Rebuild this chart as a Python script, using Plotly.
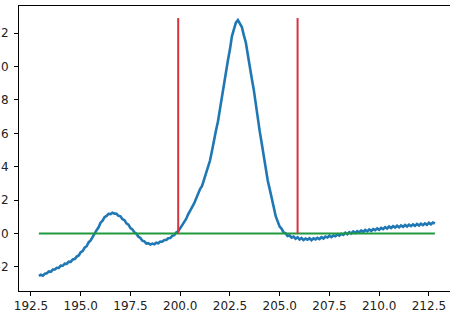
import numpy as np
import plotly.graph_objects as go

# Sampling grid of the spectrum (x step 0.1 from 192.9 to 212.8)
x_start, x_step, n_pts = 192.9, 0.1, 200
signal = [
    -2.54, -2.47, -2.52, -2.40, -2.38, -2.27, -2.29, -2.16, -2.15, -2.05,
    -2.06, -1.92, -1.93, -1.80, -1.82, -1.68, -1.70, -1.55, -1.53, -1.38,
    -1.31, -1.12, -1.05, -0.84, -0.76, -0.53, -0.41, -0.19, -0.06, 0.20,
    0.37, 0.65, 0.77, 0.98, 1.05, 1.18, 1.16, 1.25, 1.19, 1.18,
    1.06, 1.03, 0.86, 0.80, 0.61, 0.53, 0.33, 0.25, 0.07, -0.01,
    -0.19, -0.26, -0.43, -0.47, -0.60, -0.58, -0.66, -0.60, -0.64, -0.55,
    -0.58, -0.48, -0.49, -0.39, -0.39, -0.28, -0.27, -0.14, -0.10, 0.06,
    0.13, 0.32, 0.46, 0.71, 0.87, 1.15, 1.33, 1.58, 1.80, 2.12,
    2.33, 2.66, 2.85, 3.22, 3.52, 4.01, 4.37, 4.95, 5.47, 6.16,
    6.72, 7.50, 8.11, 8.93, 9.56, 10.37, 11.01, 11.80, 12.22, 12.62,
    12.78, 12.55, 12.36, 11.86, 11.44, 10.70, 10.09, 9.27, 8.60, 7.70,
    6.99, 6.10, 5.39, 4.57, 3.94, 3.17, 2.66, 2.00, 1.59, 1.04,
    0.75, 0.41, 0.28, 0.06, 0.01, -0.15, -0.12, -0.25, -0.18, -0.31,
    -0.22, -0.36, -0.27, -0.39, -0.30, -0.37, -0.28, -0.40, -0.29, -0.35,
    -0.26, -0.33, -0.22, -0.30, -0.18, -0.24, -0.13, -0.22, -0.12, -0.16,
    -0.05, -0.13, -0.02, -0.08, 0.05, -0.04, 0.08, 0.00, 0.12, 0.03,
    0.14, 0.06, 0.18, 0.09, 0.21, 0.13, 0.24, 0.15, 0.27, 0.20,
    0.31, 0.22, 0.34, 0.26, 0.38, 0.30, 0.42, 0.33, 0.44, 0.36,
    0.47, 0.37, 0.48, 0.40, 0.51, 0.42, 0.53, 0.44, 0.55, 0.46,
    0.57, 0.48, 0.59, 0.50, 0.61, 0.52, 0.64, 0.55, 0.66, 0.60,
]
baseline_x = [192.9, 212.8]
baseline_y = [0, 0]
bounds_x = [199.9, 205.9]
bound_low, bound_high = 0, 12.9
x_ticks = [192.5, 195.0, 197.5, 200.0, 202.5, 205.0, 207.5, 210.0, 212.5]
y_ticks = [-2, 0, 2, 4, 6, 8, 10, 12]

x = np.round(x_start + x_step * np.arange(n_pts), 1)

fig = go.Figure()
fig.add_trace(go.Scatter(x=x, y=signal, mode="lines",
                         line=dict(color="#1f77b4", width=2.6), showlegend=False))
fig.add_trace(go.Scatter(x=baseline_x, y=baseline_y, mode="lines",
                         line=dict(color="#1f9a3f", width=2), showlegend=False))
for bx in bounds_x:
    fig.add_trace(go.Scatter(x=[bx, bx], y=[bound_low, bound_high], mode="lines",
                             line=dict(color="#d9323f", width=2), showlegend=False))

axis_common = dict(showgrid=False, zeroline=False, showline=True, linecolor="black",
                   linewidth=1, ticks="outside", ticklen=4, tickcolor="black",
                   automargin=False,
                   tickfont=dict(family="DejaVu Sans", size=12, color="#222"))
fig.update_layout(
    width=450, height=320,
    margin=dict(l=19, r=0, t=6, b=29),
    paper_bgcolor="white", plot_bgcolor="white",
    xaxis=dict(range=[191.9, 213.56], tickvals=x_ticks,
               ticktext=[f"{v:.1f}" for v in x_ticks], mirror=True, **axis_common),
    yaxis=dict(range=[-3.44, 13.62], tickvals=y_ticks,
               ticktext=[str(v).replace("-", "\u2212") for v in y_ticks],
               ticklabelstandoff=3, mirror=False, **axis_common),
)
fig.write_html("out.html")
